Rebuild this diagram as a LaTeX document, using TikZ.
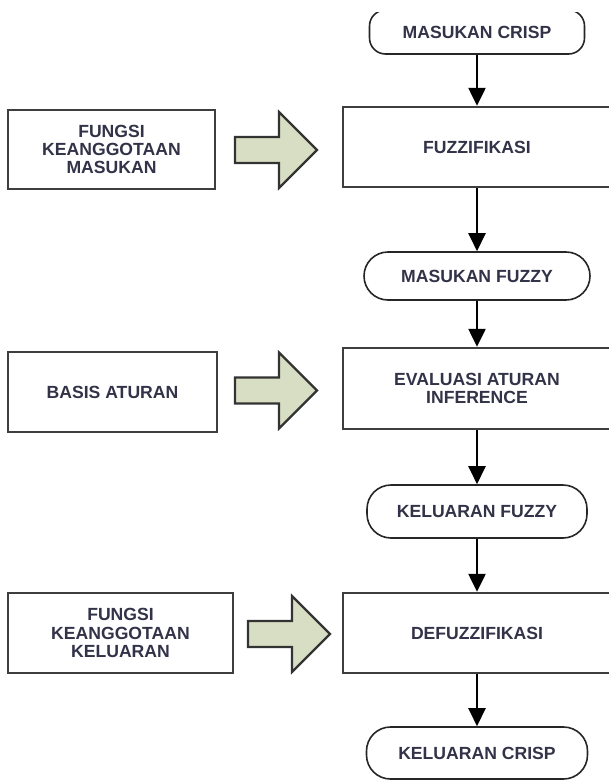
\documentclass[tikz,border=0pt]{standalone}
\usepackage{fontspec}
\setmainfont{Liberation Sans}
\usetikzlibrary{arrows.meta,positioning}
\definecolor{LabelInk}{RGB}{50,50,72}
\definecolor{FrameGray}{RGB}{62,62,62}
\definecolor{ArrowFill}{RGB}{216,222,196}
\tikzset{
  labelfont/.style={font=\fontsize{17.6}{18.4}\selectfont\bfseries,text=LabelInk},
  stage/.style={draw=FrameGray,line width=2.4pt,minimum width=268pt,
    minimum height=80pt,align=center,labelfont},
  source/.style={draw=FrameGray,line width=2.4pt,minimum height=80pt,
    align=center,labelfont},
  terminal/.style={draw=black!85,line width=1.6pt,rounded corners=24pt,
    minimum width=220pt,minimum height=50pt,labelfont},
  flow/.style={-{Triangle[width=17pt,length=18pt]},line width=2.4pt,black},
  blockarrow/.style={draw=black!80,line width=2.2pt,fill=ArrowFill,line join=miter}
}

\begin{document}
\begin{tikzpicture}[x=1pt,y=-1pt]
  \clip (0,0) rectangle (609,781);
  % input terminal, cut off at the top
  \begin{scope}
    \clip (0,13) rectangle (609,80);
    \node[terminal,minimum width=215pt,minimum height=44pt,rounded corners=16pt]
      (crispin) at (477,32) {MASUKAN CRISP};
  \end{scope}
  % main column
  \node[stage] (fuzz) at (477,147) {FUZZIFIKASI};
  \node[terminal,minimum width=226pt,minimum height=48pt] (fuzzin) at (477,276) {MASUKAN FUZZY};
  \node[stage,minimum height=81pt] (infer) at (477,388.5) {EVALUASI ATURAN\\INFERENCE};
  \node[terminal,minimum height=53pt] (fuzzout) at (477,511.5) {KELUARAN FUZZY};
  \node[stage] (defuzz) at (477,633) {DEFUZZIFIKASI};
  \node[terminal,minimum width=221pt,minimum height=52pt] (crispout) at (477,753) {KELUARAN CRISP};
  % knowledge boxes
  \node[source,minimum width=207pt,minimum height=79pt] (mfin) at (111.5,149.5)
    {FUNGSI\\KEANGGOTAAN\\MASUKAN};
  \node[source,minimum width=209pt] (rulebase) at (112.5,392) {BASIS ATURAN};
  \node[source,minimum width=225pt] (mfout) at (120.5,633)
    {FUNGSI\\KEANGGOTAAN\\KELUARAN};
  % flow
  \draw[flow] (crispin) -- (fuzz);
  \draw[flow] (fuzz) -- (fuzzin);
  \draw[flow] (fuzzin) -- (infer);
  \draw[flow] (infer) -- (fuzzout);
  \draw[flow] (fuzzout) -- (defuzz);
  \draw[flow] (defuzz) -- (crispout);
  % block arrows
  \foreach \bx/\by in {235/150,235/390.5,248/634}
    \draw[blockarrow] (\bx,\by-13) -- ++(44,0) -- ++(0,-25) -- (\bx+82,\by)
      -- (\bx+44,\by+38) -- ++(0,-25) -- (\bx,\by+13) -- cycle;
\end{tikzpicture}
\end{document}
